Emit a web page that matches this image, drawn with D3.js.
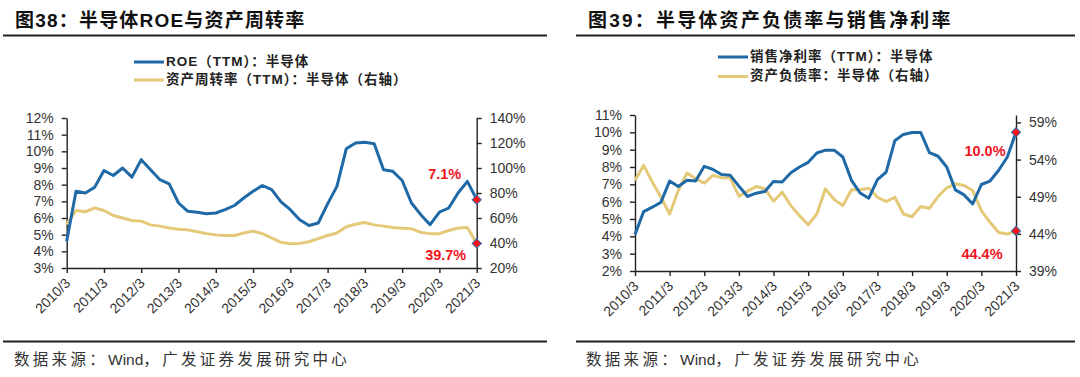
<!DOCTYPE html>
<html>
<head>
<meta charset="utf-8">
<script src="https://cdn.jsdelivr.net/npm/d3@7"></script>
<style>
  body { margin: 0; background: #fff; }
  svg text { font-family: "Liberation Sans", Arial, "Noto Sans CJK SC", sans-serif; }
</style>
</head>
<body>
<svg id="chart" width="1080" height="377"></svg>
<script>
// quarterly categories, 2010/3 .. 2021/3
const quarters = [
  "2010/3","2010/6","2010/9","2010/12","2011/3","2011/6","2011/9","2011/12",
  "2012/3","2012/6","2012/9","2012/12","2013/3","2013/6","2013/9","2013/12",
  "2014/3","2014/6","2014/9","2014/12","2015/3","2015/6","2015/9","2015/12",
  "2016/3","2016/6","2016/9","2016/12","2017/3","2017/6","2017/9","2017/12",
  "2018/3","2018/6","2018/9","2018/12","2019/3","2019/6","2019/9","2019/12",
  "2020/3","2020/6","2020/9","2020/12","2021/3"
];
const yearTicks = ["2010/3","2011/3","2012/3","2013/3","2014/3","2015/3",
  "2016/3","2017/3","2018/3","2019/3","2020/3","2021/3"];

// 图38 - ROE (left axis, %) and asset turnover (right axis, %)
const roe = [4.6,7.6,7.5,7.85,8.85,8.55,9.0,8.45,9.5,8.9,8.3,8.05,6.9,6.4,6.35,6.25,
  6.3,6.5,6.75,7.2,7.6,7.95,7.7,6.97,6.5,5.9,5.55,5.7,6.85,7.9,10.15,10.5,
  10.55,10.45,8.9,8.8,8.25,6.9,6.2,5.6,6.35,6.6,7.5,8.2,7.1];
const assetTurnover = [55,66,65,68,66,62,60,58,57.5,54.5,53.5,52,51,50.5,49,47.5,
  46.5,46,46,48,49.5,47.5,44,40.5,39.4,39.7,41,43.5,46,48,53,55,
  56.4,54.5,53.5,52.4,51.8,51.5,48.5,47.5,47.5,50,52,52.4,39.7];
const roeTicksL = [3,4,5,6,7,8,9,10,11,12];
const turnoverTicksR = [20,40,60,80,100,120,140];

// 图39 - net margin (left axis, %) and debt ratio (right axis, %)
const netMargin = [4.1,5.43,5.68,5.97,7.19,6.88,7.23,7.19,8.04,7.86,7.57,7.52,6.9,6.3,6.49,6.59,
  7.17,7.13,7.67,8.0,8.27,8.81,8.97,8.97,8.58,7.23,6.5,6.2,7.27,7.71,9.51,9.88,
  9.99,9.99,8.83,8.62,8.0,6.68,6.39,5.87,6.99,7.19,7.81,8.58,10.0];
const debtRatio = [51.19,53.22,50.97,48.93,46.68,49.84,52.19,51.42,50.83,51.87,51.55,51.51,49.07,49.75,50.38,50.06,
  48.39,49.61,47.8,46.45,45.23,46.68,50.06,48.62,47.8,49.93,49.93,50.15,48.93,48.35,48.93,46.68,
  46.31,47.67,47.44,49.02,50.2,50.74,50.52,49.84,47.13,45.55,44.19,43.97,44.4];
const marginTicksL = [2,3,4,5,6,7,8,9,10,11];
const debtTicksR = [39,44,49,54,59];

const BLUE = "#1f69a6";
const GOLD = "#e3c978";
const RED = "#f0141e";
const INK = "#222";

const svg = d3.select("#chart");

function drawPanel(p) {
  const g = svg.append("g");

  // title + rules
  g.append("text")
    .attr("x", p.titleX).attr("y", 27)
    .attr("font-size", 19).attr("font-weight", "bold")
    .attr("letter-spacing", p.titleSpacing)
    .attr("fill", "#111")
    .text(p.title);
  g.append("line")
    .attr("x1", p.ruleX[0]).attr("x2", p.ruleX[1])
    .attr("y1", 35.5).attr("y2", 35.5)
    .attr("stroke", INK).attr("stroke-width", 2);
  g.append("line")
    .attr("x1", p.ruleX[0]).attr("x2", p.ruleX[1])
    .attr("y1", 341.5).attr("y2", 341.5)
    .attr("stroke", INK).attr("stroke-width", 2);

  // source line: spaced CJK, plain "Wind"
  const src = g.append("text")
    .attr("x", p.sourceX).attr("y", 361)
    .attr("dominant-baseline", "middle")
    .attr("font-size", 15.5)
    .attr("fill", "#333");
  src.append("tspan").attr("letter-spacing", 3.3).text("数据来源：");
  src.append("tspan").text("Wind");
  src.append("tspan").attr("letter-spacing", 3.3).text("，广发证券发展研究中心");

  // legend
  p.legend.forEach((d, i) => {
    const ly = p.legendY + i * p.legendStep;
    g.append("line")
      .attr("x1", p.legendX).attr("x2", p.legendX + 30)
      .attr("y1", ly).attr("y2", ly)
      .attr("stroke", d.color).attr("stroke-width", 3);
    g.append("text")
      .attr("x", p.legendX + 32).attr("y", ly)
      .attr("dominant-baseline", "middle")
      .attr("font-size", 13.5).attr("font-weight", "bold")
      .attr("letter-spacing", 1)
      .attr("fill", INK)
      .text(d.label);
  });

  const x = d3.scaleLinear().domain([0, quarters.length - 1]).range([p.left, p.right]);
  const yL = d3.scaleLinear().domain(p.leftDomain).range([p.bottom, p.top]);
  const yR = d3.scaleLinear().domain(p.rightDomain).range([p.bottom, p.top]);

  const styleAxis = sel => {
    sel.select(".domain").attr("stroke", INK).attr("stroke-width", 1.4);
    sel.selectAll(".tick line").attr("stroke", INK).attr("stroke-width", 1.4);
    sel.selectAll("text").attr("font-size", 14).attr("fill", "#333")
      .style("font-family", '"Liberation Sans", Arial, sans-serif');
  };

  g.append("g")
    .attr("transform", `translate(${p.left},0)`)
    .call(d3.axisLeft(yL).tickValues(p.leftTicks).tickFormat(d => d + "%")
      .tickSize(5).tickSizeOuter(0).tickPadding(8))
    .call(styleAxis);

  g.append("g")
    .attr("transform", `translate(${p.right},0)`)
    .call(d3.axisRight(yR).tickValues(p.rightTicks).tickFormat(d => d + "%")
      .tickSize(5).tickSizeOuter(0).tickPadding(8))
    .call(styleAxis);

  const xAxis = g.append("g")
    .attr("transform", `translate(0,${p.bottom})`)
    .call(d3.axisBottom(x)
      .tickValues(yearTicks.map(t => quarters.indexOf(t)))
      .tickFormat(i => quarters[i])
      .tickSize(5).tickSizeOuter(0))
    .call(styleAxis);
  xAxis.selectAll("text")
    .attr("text-anchor", "end")
    .attr("dy", null)
    .attr("y", 0)
    .attr("transform", "translate(4,16) rotate(-45)");

  const lineL = d3.line().x((d, i) => x(i)).y(d => yL(d));
  const lineR = d3.line().x((d, i) => x(i)).y(d => yR(d));

  g.append("path")
    .datum(p.rightSeries)
    .attr("fill", "none").attr("stroke", GOLD).attr("stroke-width", 3)
    .attr("stroke-linejoin", "round")
    .attr("d", lineR);
  g.append("path")
    .datum(p.leftSeries)
    .attr("fill", "none").attr("stroke", BLUE).attr("stroke-width", 3)
    .attr("stroke-linejoin", "round")
    .attr("d", lineL);

  // end markers + labels
  const last = quarters.length - 1;
  const ends = [
    { cy: yL(p.leftSeries[last]), text: p.leftLabel.text, dx: p.leftLabel.dx, dy: p.leftLabel.dy },
    { cy: yR(p.rightSeries[last]), text: p.rightLabel.text, dx: p.rightLabel.dx, dy: p.rightLabel.dy }
  ];
  ends.forEach(e => {
    g.append("path")
      .attr("d", d3.symbol(d3.symbolSquare, 42)())
      .attr("transform", `translate(${x(last)},${e.cy}) rotate(45)`)
      .attr("fill", "#ff1010").attr("stroke", "#3d6fb0").attr("stroke-width", 1);
    g.append("text")
      .attr("x", x(last) + e.dx).attr("y", e.cy + e.dy)
      .attr("text-anchor", "middle").attr("dominant-baseline", "middle")
      .attr("font-size", 14.5).attr("font-weight", "bold")
      .attr("fill", RED)
      .text(e.text);
  });
}

drawPanel({
  title: "图38：半导体ROE与资产周转率",
  titleX: 15, titleSpacing: 1.2, ruleX: [3, 547], sourceX: 14,
  legendX: 134, legendY: 62, legendStep: 18,
  legend: [
    { label: "ROE（TTM）：半导体", color: BLUE },
    { label: "资产周转率（TTM）：半导体（右轴）", color: GOLD }
  ],
  left: 66.7, right: 476.7, top: 118, bottom: 268,
  leftDomain: [3, 12], leftTicks: roeTicksL,
  rightDomain: [20, 140], rightTicks: turnoverTicksR,
  leftSeries: roe, rightSeries: assetTurnover,
  leftLabel: { text: "7.1%", dx: -32, dy: -24 },
  rightLabel: { text: "39.7%", dx: -31, dy: 13 }
});

drawPanel({
  title: "图39：半导体资产负债率与销售净利率",
  titleX: 588, titleSpacing: 2.2, ruleX: [576, 1075], sourceX: 586,
  legendX: 718, legendY: 57, legendStep: 19.5,
  legend: [
    { label: "销售净利率（TTM）：半导体", color: BLUE },
    { label: "资产负债率：半导体（右轴）", color: GOLD }
  ],
  left: 635, right: 1016, top: 115, bottom: 271,
  leftDomain: [2, 11], leftTicks: marginTicksL,
  rightDomain: [39, 60], rightTicks: debtTicksR,
  leftSeries: netMargin, rightSeries: debtRatio,
  leftLabel: { text: "10.0%", dx: -31, dy: 20 },
  rightLabel: { text: "44.4%", dx: -34, dy: 24 }
});
</script>
</body>
</html>
